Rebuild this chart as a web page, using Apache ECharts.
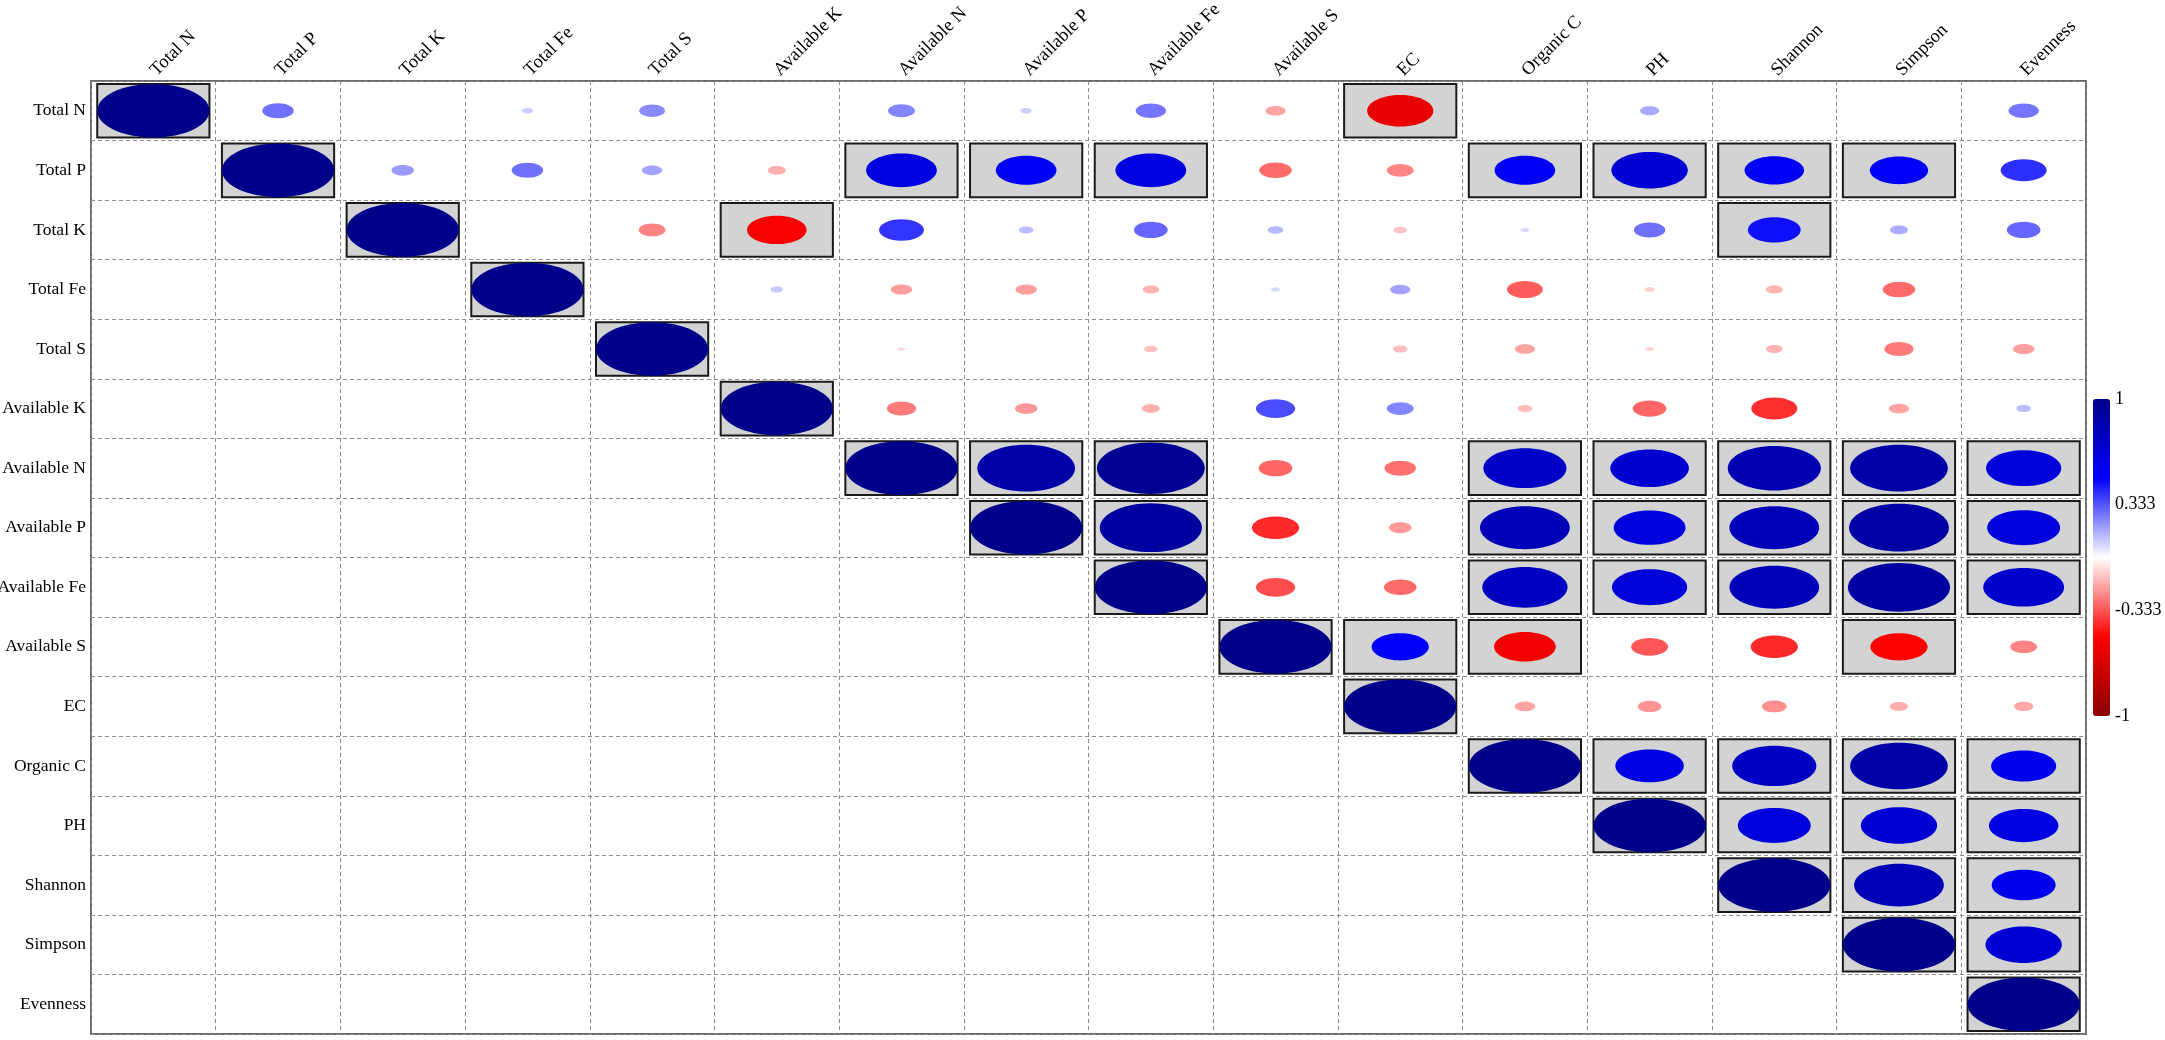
<!DOCTYPE html>
<html>
<head>
<meta charset="utf-8">
<title>Correlation plot</title>
<script src="https://cdn.jsdelivr.net/npm/echarts@6/dist/echarts.min.js"></script>
<style>
  html, body { margin: 0; padding: 0; background: #fff; }
  #corr { width: 2165px; height: 1040px; }
</style>
</head>
<body>
<div id="corr"></div>
<script>
// variable names (same order on both axes)
var labels = ['Total N', 'Total P', 'Total K', 'Total Fe', 'Total S', 'Available K',
  'Available N', 'Available P', 'Available Fe', 'Available S', 'EC', 'Organic C',
  'PH', 'Shannon', 'Simpson', 'Evenness'];

// upper triangle, each row starts at its own diagonal cell
var rowTotalN     = [1, 0.28, 0.02, 0.10, 0.23, 0.02, 0.24, 0.10, 0.27, -0.18, -0.59, 0.01, 0.17, 0.01, 0.00, 0.27];
var rowTotalP     = [1, 0.20, 0.28, 0.18, -0.16, 0.63, 0.54, 0.63, -0.29, -0.24, 0.54, 0.68, 0.53, 0.52, 0.41];
var rowTotalK     = [1, -0.02, -0.24, -0.53, 0.40, 0.13, 0.30, 0.14, -0.12, 0.08, 0.28, 0.47, 0.16, 0.30];
var rowTotalFe    = [1, 0.01, 0.11, -0.19, -0.19, -0.15, 0.08, 0.18, -0.32, -0.09, -0.15, -0.29, 0.01];
var rowTotalS     = [1, 0.01, -0.07, 0.00, -0.12, 0.01, -0.13, -0.18, -0.08, -0.15, -0.26, -0.19];
var rowAvailK     = [1, -0.26, -0.20, -0.16, 0.35, 0.24, -0.13, -0.30, -0.41, -0.18, 0.13];
var rowAvailN     = [1, 0.87, 0.96, -0.30, -0.28, 0.74, 0.70, 0.83, 0.87, 0.67];
var rowAvailP     = [1, 0.91, -0.42, -0.20, 0.80, 0.64, 0.80, 0.89, 0.65];
var rowAvailFe    = [1, -0.35, -0.29, 0.76, 0.67, 0.80, 0.91, 0.72];
var rowAvailS     = [1, 0.51, -0.55, -0.33, -0.42, -0.51, -0.24];
var rowEC         = [1, -0.18, -0.21, -0.22, -0.16, -0.17];
var rowOrganicC   = [1, 0.61, 0.75, 0.87, 0.58];
var rowPH         = [1, 0.65, 0.68, 0.62];
var rowShannon    = [1, 0.80, 0.57];
var rowSimpson    = [1, 0.68];
var rowEvenness   = [1];

// significant cells (1 = grey box), same layout as the rows above
var sigTotalN   = [1, 0, 0, 0, 0, 0, 0, 0, 0, 0, 1, 0, 0, 0, 0, 0];
var sigTotalP   = [1, 0, 0, 0, 0, 1, 1, 1, 0, 0, 1, 1, 1, 1, 0];
var sigTotalK   = [1, 0, 0, 1, 0, 0, 0, 0, 0, 0, 0, 1, 0, 0];
var sigTotalFe  = [1, 0, 0, 0, 0, 0, 0, 0, 0, 0, 0, 0, 0];
var sigTotalS   = [1, 0, 0, 0, 0, 0, 0, 0, 0, 0, 0, 0];
var sigAvailK   = [1, 0, 0, 0, 0, 0, 0, 0, 0, 0, 0];
var sigAvailN   = [1, 1, 1, 0, 0, 1, 1, 1, 1, 1];
var sigAvailP   = [1, 1, 0, 0, 1, 1, 1, 1, 1];
var sigAvailFe  = [1, 0, 0, 1, 1, 1, 1, 1];
var sigAvailS   = [1, 1, 1, 0, 0, 1, 0];
var sigEC       = [1, 0, 0, 0, 0, 0];
var sigOrganicC = [1, 1, 1, 1, 1];
var sigPH       = [1, 1, 1, 1];
var sigShannon  = [1, 1, 1];
var sigSimpson  = [1, 1];
var sigEvenness = [1];

// colour bar
var barTicks = ['-1', '-0.333', '0.333', '1'];
var palette = ['#8B0000', '#FF0000', '#FFFFFF', '#0000FF', '#00008B'];

var rows = [rowTotalN, rowTotalP, rowTotalK, rowTotalFe, rowTotalS, rowAvailK, rowAvailN,
  rowAvailP, rowAvailFe, rowAvailS, rowEC, rowOrganicC, rowPH, rowShannon, rowSimpson, rowEvenness];
var sigs = [sigTotalN, sigTotalP, sigTotalK, sigTotalFe, sigTotalS, sigAvailK, sigAvailN,
  sigAvailP, sigAvailFe, sigAvailS, sigEC, sigOrganicC, sigPH, sigShannon, sigSimpson, sigEvenness];

var cells = [];
for (var i = 0; i < rows.length; i++) {
  for (var k = 0; k < rows[i].length; k++) {
    // [column, row, r, significant]
    cells.push([i + k, i, rows[i][k], sigs[i][k]]);
  }
}

var serif = "'Liberation Serif', 'Times New Roman', serif";

function drawCell(params, api) {
  var p = api.coord([api.value(0), api.value(1)]);
  var s = api.size([1, 1]);
  var r = api.value(2);
  var w = s[0] * 0.9;
  var h = s[1] * 0.9;
  var kids = [];
  if (api.value(3) == 1) {
    kids.push({
      type: 'rect',
      shape: { x: p[0] - w / 2, y: p[1] - h / 2, width: w, height: h },
      style: { fill: '#D3D3D3', stroke: '#1a1a1a', lineWidth: 2 }
    });
  }
  kids.push({
    type: 'ellipse',
    shape: { cx: p[0], cy: p[1], rx: w / 2 * Math.abs(r), ry: h / 2 * Math.abs(r) },
    style: { fill: api.visual('color') }
  });
  return { type: 'group', children: kids };
}

var myChart = echarts.init(document.getElementById('corr'));

var option = {
  backgroundColor: '#fff',
  animation: false,
  grid: [
    {
      left: 91, top: 81, width: 1995, height: 953,
      outerBoundsMode: 'none',
      show: true, borderColor: '#6b6b6b', borderWidth: 2, backgroundColor: 'transparent'
    },
    { left: 2093, top: 399, width: 17, height: 317, outerBoundsMode: 'none' }
  ],
  xAxis: [
    {
      type: 'category',
      position: 'top',
      data: labels,
      axisLine: { show: false },
      axisTick: { show: false },
      axisLabel: {
        rotate: -45, margin: 8, interval: 0, align: 'left', verticalAlign: 'middle',
        fontSize: 18.5, color: '#000', fontFamily: serif
      },
      splitLine: { show: true, lineStyle: { color: '#8c8c8c', type: [4, 3], width: 1 } }
    },
    { type: 'category', gridIndex: 1, data: [''], show: false }
  ],
  yAxis: [
    {
      type: 'category',
      inverse: true,
      data: labels,
      axisLine: { show: false },
      axisTick: { show: false },
      axisLabel: { margin: 5, interval: 0, fontSize: 17.5, color: '#000', fontFamily: serif },
      splitLine: { show: true, lineStyle: { color: '#8c8c8c', type: [4, 3], width: 1 } }
    },
    {
      type: 'value',
      gridIndex: 1,
      position: 'right',
      min: 0, max: 3, interval: 1,
      axisLine: { show: false },
      axisTick: { show: false },
      splitLine: { show: false },
      axisLabel: {
        margin: 5, fontSize: 18, color: '#000', fontFamily: serif,
        formatter: function (v) { return barTicks[Math.round(v)]; }
      }
    }
  ],
  visualMap: {
    type: 'continuous',
    seriesIndex: 0,
    dimension: 2,
    min: -1, max: 1,
    calculable: false,
    realtime: false,
    left: 2093, top: 399,
    itemWidth: 17, itemHeight: 317,
    padding: 0,
    text: null,
    showLabel: false,
    inRange: { color: palette }
  },
  series: [
    {
      type: 'custom',
      xAxisIndex: 0,
      yAxisIndex: 0,
      renderItem: drawCell,
      data: cells,
      z: 5
    }
  ]
};

myChart.setOption(option);
</script>
</body>
</html>
